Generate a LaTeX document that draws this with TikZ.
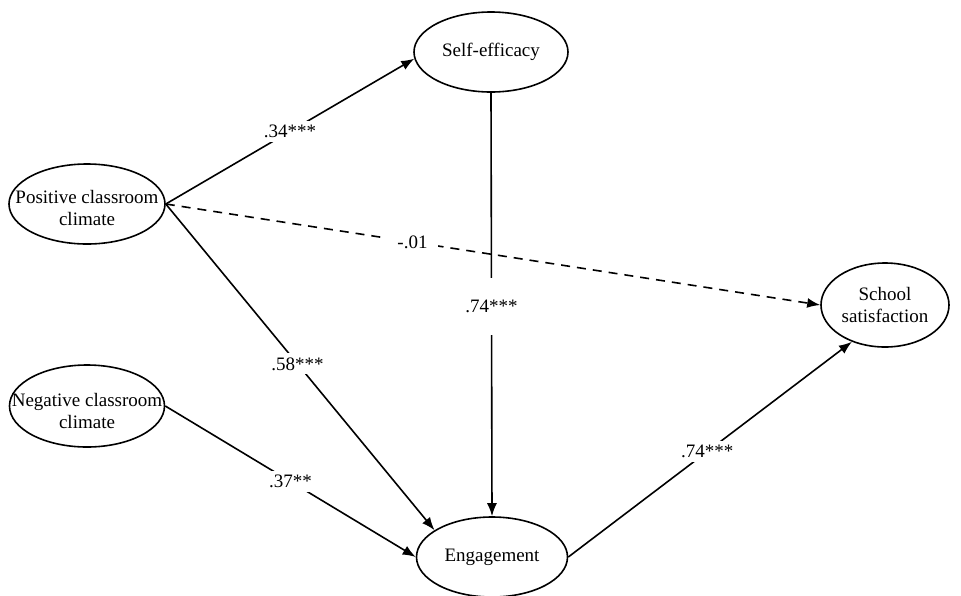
\documentclass[tikz,border=0pt]{standalone}
\usepackage{fontspec}
\setmainfont{Liberation Serif}
\usetikzlibrary{shapes.geometric,arrows.meta}
\begin{document}
\begin{tikzpicture}[x=1pt,y=-1pt,
  every node/.style={font=\fontsize{19}{22}\selectfont},
  latent/.style={ellipse,draw,line width=1.6pt,inner sep=0pt},
  path/.style={line width=1.6pt,-{Latex[length=13pt,width=10pt]}},
  dashpath/.style={path,dash pattern=on 9pt off 7pt},
  coef/.style={fill=white,inner sep=4pt}]
\useasboundingbox (0,0) rectangle (961,595);
\node[latent,minimum width=156pt,minimum height=80pt,
  label={[align=center,yshift=-4pt]center:Positive classroom\\climate}] (pos) at (87,204) {};
\node[latent,minimum width=155pt,minimum height=82pt,
  label={[align=center,yshift=-5pt]center:Negative classroom\\climate}] (neg) at (87,406) {};
\node[latent,minimum width=154pt,minimum height=80pt,
  label={center:Self-efficacy}] (self) at (491,52) {};
\node[latent,minimum width=128pt,minimum height=84pt,
  label={[align=center]center:School\\satisfaction}] (sat) at (885,305) {};
\node[latent,minimum width=151pt,minimum height=80pt,
  label={center:Engagement}] (eng) at (492,557) {};
\draw[path] (pos.east) -- node[coef,pos=0.5] (c1) {.34***} (self.185);
\draw[dashpath] (pos.east) -- node[coef,pos=0.377,inner xsep=10pt] (c2) {-.01} (sat.west);
\draw[path] (self.south) -- node[coef,pos=0.504,inner ysep=22pt] (c3) {.74***} (eng.north);
\draw[path] (pos.east) -- node[coef,pos=0.49] (c4) {.58***} (eng.155);
\draw[path] (neg.east) -- node[coef,pos=0.5] (c5) {.37**} (eng.west);
\draw[path] (eng.east) -- node[coef,pos=0.49] (c6) {.74***} (sat.228);
\end{tikzpicture}
\end{document}
